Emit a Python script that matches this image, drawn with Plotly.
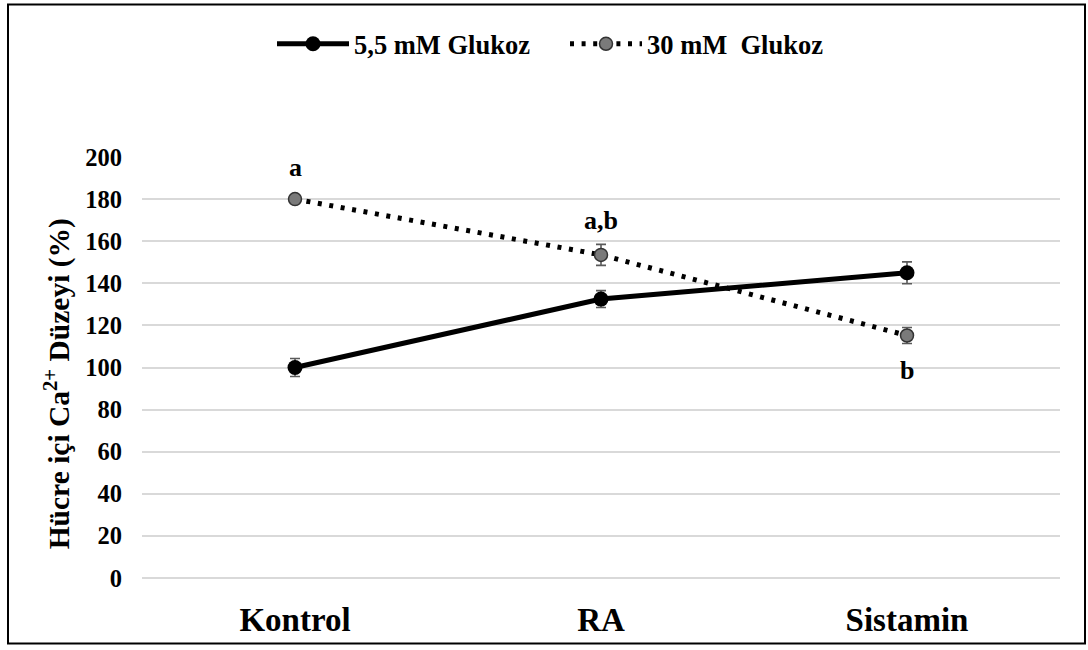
import plotly.graph_objects as go

# Data
categories = ["Kontrol", "RA", "Sistamin"]
glc_low = [100, 132.5, 145]        # 5,5 mM Glukoz
glc_low_err = [4.3, 4.0, 5.2]
glc_high = [180, 153.5, 115.2]     # 30 mM Glukoz
glc_high_err = [1.5, 5.0, 3.8]
sig_letters = ["a", "a,b", "b"]
sig_shift = [32, 34, -35]
y_ticks = [0, 20, 40, 60, 80, 100, 120, 140, 160, 180, 200]

FONT = "Liberation Serif"
W, H = 1088, 650
L, R, T, B = 142, 28, 157, 68
pw, ph = W - L - R, H - T - B

fig = go.Figure()

fig.add_trace(go.Scatter(
    x=categories, y=glc_low, name="5,5 mM Glukoz", mode="lines+markers",
    line=dict(color="#000000", width=5),
    marker=dict(size=15, color="#000000"),
    error_y=dict(type="data", array=glc_low_err, color="#5a5a5a", thickness=1.6, width=5),
))

fig.add_trace(go.Scatter(
    x=categories, y=glc_high, name="30 mM\u00a0 Glukoz", mode="lines+markers",
    line=dict(color="#000000", width=5, dash="4px,7.6px"),
    marker=dict(size=13, color="#7a7a7a", line=dict(color="#333333", width=1.5)),
    error_y=dict(type="data", array=glc_high_err, color="#5a5a5a", thickness=1.6, width=5),
))

for cat, val, txt, sh in zip(categories, glc_high, sig_letters, sig_shift):
    fig.add_annotation(x=cat, y=val, text=f"<b>{txt}</b>", showarrow=False,
                       yshift=sh, font=dict(family=FONT, size=26, color="#000000"))

# y-axis title
fig.add_annotation(x=(57 - L) / pw, y=0.5 - 17 / ph, xref="paper", yref="paper",
                   xanchor="center", yanchor="middle",
                   text="<b>Hücre içi Ca<sup>2+</sup> Düzeyi (%)</b>", textangle=-90,
                   showarrow=False, font=dict(family=FONT, size=29.5, color="#000000"))

# outer frame
fig.add_shape(type="rect", xref="paper", yref="paper",
              x0=(8 - L) / pw, x1=(1085 - L) / pw,
              y0=-(648 - (H - B)) / ph, y1=((H - B) - 3) / ph,
              line=dict(color="#000000", width=2), fillcolor="rgba(0,0,0,0)")

fig.update_layout(
    width=W, height=H,
    margin=dict(l=L, r=R, t=T, b=B),
    paper_bgcolor="#ffffff", plot_bgcolor="#ffffff",
    font=dict(family=FONT, color="#000000"),
    showlegend=True,
    legend=dict(orientation="h", x=(272 - L) / pw, xanchor="left",
                y=((H - B) - 43) / ph, yanchor="middle",
                font=dict(family=FONT, size=26.5, color="#000000", weight="bold"),
                itemwidth=72, entrywidth=206, entrywidthmode="pixels",
                bgcolor="rgba(0,0,0,0)"),
    xaxis=dict(showgrid=False, showline=False, zeroline=False, ticks="",
               range=[-0.5, 2.5],
               tickfont=dict(family=FONT, size=33, color="#000000", weight="bold"),
               ticklabelstandoff=19),
    yaxis=dict(range=[0, 200], tickvals=y_ticks, showgrid=True, gridcolor="#d9d9d9",
               gridwidth=1.5, zeroline=True, zerolinecolor="#d9d9d9", zerolinewidth=1.5,
               showline=False, ticks="",
               tickfont=dict(family=FONT, size=24.5, color="#000000", weight="bold"),
               ticklabelstandoff=19),
)

fig.write_html("out.html")
